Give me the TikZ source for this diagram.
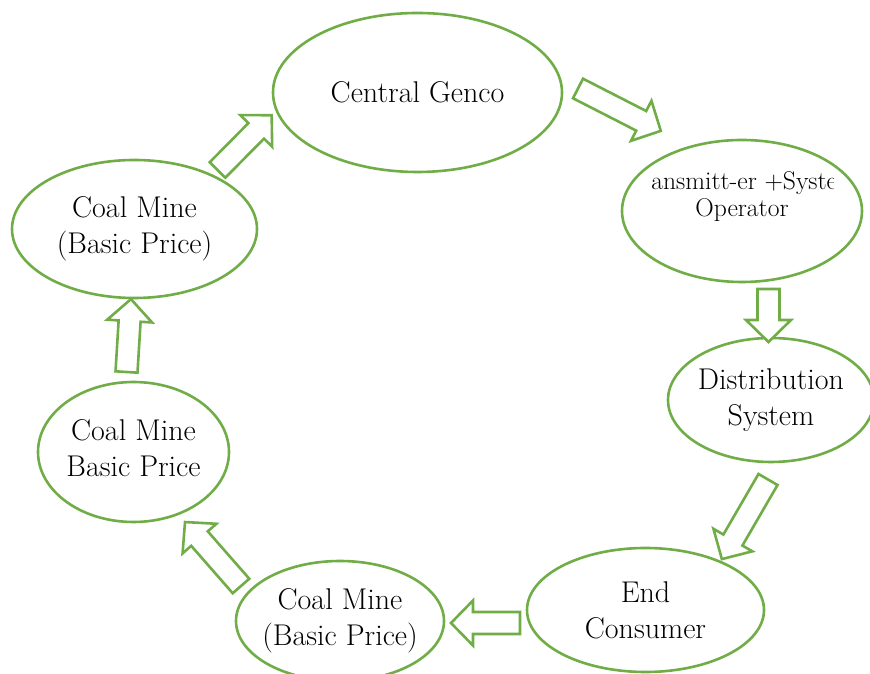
\documentclass[tikz,border=0pt]{standalone}
\usetikzlibrary{shapes.geometric}
\definecolor{leafgreen}{HTML}{70AD47}

\tikzset{
    stage/.style={draw=leafgreen, line width=2.6pt, fill=white, ellipse,
        inner sep=-40pt, align=center, font=\fontsize{30}{36}\selectfont},
    flowarrow/.style={draw=leafgreen, line width=2.6pt, fill=white, line join=miter}
}

% block arrow: tail coordinate, angle, length
\newcommand{\blockarrow}[3]{%
    \draw[flowarrow, shift={(#1)}, rotate=#2]
        (0,-11) -- ({#3-22},-11) -- ({#3-22},-22.5) -- (#3,0)
        -- ({#3-22},22.5) -- ({#3-22},11) -- (0,11) -- cycle;}

\begin{document}
\begin{tikzpicture}[x=1pt, y=1pt]
\useasboundingbox (0,0) rectangle (870,674);

% Stages of the cycle
\node[stage, minimum width=289, minimum height=159] (genco) at (417.5,581.5) {Central Genco};
\node[stage, minimum width=240, minimum height=142] (trans) at (742,463) {};
\node[stage, minimum width=206, minimum height=124] (dist) at (771,274) {Distribution\\System};
\node[stage, minimum width=237, minimum height=124] (endc) at (645.5,64) {End\\Consumer};
\node[stage, minimum width=208, minimum height=120] (coalb) at (340,53) {Coal Mine\\(Basic Price)};
\node[stage, minimum width=191, minimum height=140] (coalm) at (133.5,222) {Coal Mine\\\phantom{(}Basic Price\phantom{)}};
\node[stage, minimum width=245, minimum height=138] (coalt) at (134.5,445) {Coal Mine\\(Basic Price)};

% Clipped label of the transmitter
\begin{scope}
    \clip (651,430) rectangle (833,520);
    \node[align=center, font=\fontsize{25.6}{27}\selectfont] (translabel) at (742,477)
        {Transmitt-er +System\\Operator};
\end{scope}

% Tails of the arrows
\coordinate (tA) at (217.5,504);
\coordinate (tB) at (578,585.5);
\coordinate (tC) at (768.5,385);
\coordinate (tD) at (768,194.5);
\coordinate (tE) at (520,51);
\coordinate (tF) at (241,88);
\coordinate (tG) at (126.5,302);

% Arrows
\blockarrow{tA}{45.3}{77}
\blockarrow{tB}{-27.1}{93}
\blockarrow{tC}{-90}{53}
\blockarrow{tD}{-120.1}{92}
\blockarrow{tE}{180}{69}
\blockarrow{tF}{131.2}{85}
\blockarrow{tG}{86.5}{73}
\end{tikzpicture}
\end{document}
